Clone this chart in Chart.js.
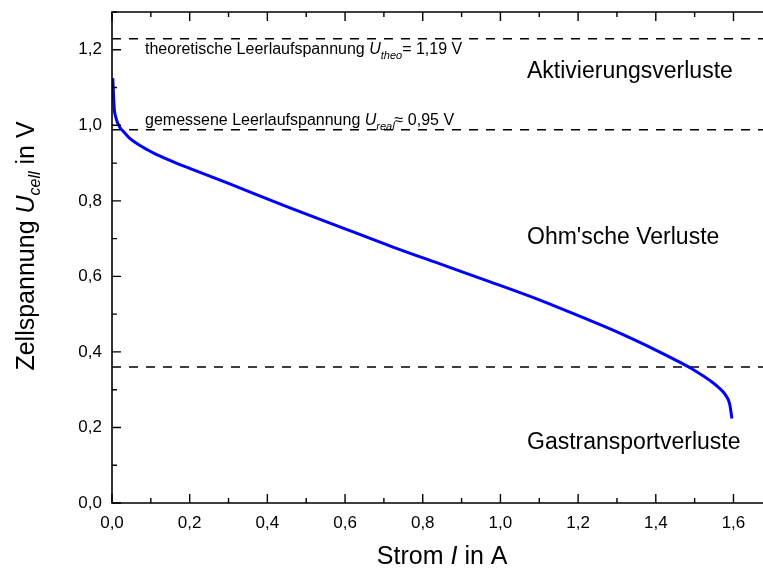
<!DOCTYPE html>
<html>
<head>
<meta charset="utf-8">
<script src="https://cdn.jsdelivr.net/npm/chart.js@4.4.1/dist/chart.umd.min.js"></script>
<style>
  html, body { margin: 0; padding: 0; background: #fff; }
  #wrap { width: 763px; height: 574px; }
</style>
</head>
<body>
<div id="wrap"><canvas id="chart" width="763" height="574"></canvas></div>
<script>
// Strom I in A
const strom = [0.002, 0.004, 0.006, 0.009, 0.013, 0.02, 0.03, 0.045, 0.07, 0.09, 0.11, 0.14, 0.17, 0.2, 0.3, 0.46, 0.6, 0.72, 0.85, 0.97, 1.1, 1.21, 1.3, 1.4, 1.45, 1.5, 1.54, 1.566, 1.58, 1.59, 1.596];
// Zellspannung U in V
const spannung = [1.125, 1.08, 1.041, 1.025, 1.01, 0.995, 0.983, 0.966, 0.948, 0.936, 0.925, 0.911, 0.898, 0.886, 0.846, 0.781, 0.726, 0.679, 0.631, 0.587, 0.538, 0.492, 0.453, 0.405, 0.379, 0.351, 0.324, 0.302, 0.285, 0.263, 0.224];
// horizontal reference levels (dashed)
const levels = [1.229, 0.988, 0.36];
const xTicks = [0, 0.2, 0.4, 0.6, 0.8, 1.0, 1.2, 1.4, 1.6];
const yTicks = [0, 0.2, 0.4, 0.6, 0.8, 1.0, 1.2];
const xMin = 0, xMax = 1.676, xFrame = 1.7;
const yMin = 0, yMax = 1.3;

const FONT = '"Liberation Sans", Arial, sans-serif';

function comma(v) {
    return Number(v).toFixed(1).replace('.', ',');
}

function richWidth(ctx, parts) {
    let w = 0;
    parts.forEach(p => { ctx.font = p.font; w += ctx.measureText(p.t).width; });
    return w;
}

function drawRich(ctx, parts, x, y) {
    let cx = x;
    parts.forEach(p => {
        ctx.font = p.font;
        ctx.fillText(p.t, cx, y + (p.dy || 0));
        cx += ctx.measureText(p.t).width;
    });
}

const framePlugin = {
    id: 'frame',
    afterDraw(chart) {
        const ctx = chart.ctx;
        const xs = chart.scales.x, ys = chart.scales.y;
        const left = xs.getPixelForValue(xMin);
        const right = xs.getPixelForValue(xFrame);
        const top = ys.getPixelForValue(yMax);
        const bottom = ys.getPixelForValue(yMin);
        ctx.save();
        ctx.strokeStyle = '#000';
        ctx.lineWidth = 1.6;
        ctx.beginPath();
        ctx.rect(left, top, right - left, bottom - top);
        ctx.stroke();

        // inward ticks on all four sides, minor every 0.1
        ctx.lineWidth = 1.4;
        ctx.beginPath();
        for (let i = 0; i <= 17; i++) {
            const px = xs.getPixelForValue(i / 10);
            const len = i % 2 === 0 ? 9 : 5;
            ctx.moveTo(px, bottom); ctx.lineTo(px, bottom - len);
            ctx.moveTo(px, top); ctx.lineTo(px, top + len);
        }
        for (let i = 0; i <= 13; i++) {
            const py = ys.getPixelForValue(i / 10);
            const len = i % 2 === 0 ? 9 : 5;
            ctx.moveTo(left, py); ctx.lineTo(left + len, py);
            ctx.moveTo(right, py); ctx.lineTo(right - len, py);
        }
        ctx.stroke();

        ctx.fillStyle = '#000';
        ctx.textAlign = 'left';
        ctx.textBaseline = 'alphabetic';
        // dashed line labels
        drawRich(ctx, [
            { t: 'theoretische Leerlaufspannung ', font: '16px ' + FONT },
            { t: 'U', font: 'italic 16px ' + FONT },
            { t: 'theo', font: 'italic 11px ' + FONT, dy: 5 },
            { t: '= 1,19 V', font: '16px ' + FONT }
        ], 145, 54);
        drawRich(ctx, [
            { t: 'gemessene Leerlaufspannung ', font: '16px ' + FONT },
            { t: 'U', font: 'italic 16px ' + FONT },
            { t: 'real', font: 'italic 11px ' + FONT, dy: 5 },
            { t: '\u2248 0,95 V', font: '16px ' + FONT }
        ], 145, 125);
        // region labels
        ctx.font = '23px ' + FONT;
        ctx.fillText('Aktivierungsverluste', 527, 78);
        ctx.fillText("Ohm'sche Verluste", 527, 244);
        ctx.fillText('Gastransportverluste', 527, 449);

        // axis titles
        const xt = [
            { t: 'Strom ', font: '25px ' + FONT },
            { t: 'I', font: 'italic 25px ' + FONT },
            { t: ' in A', font: '25px ' + FONT }
        ];
        const xw = richWidth(ctx, xt);
        drawRich(ctx, xt, (left + right) / 2 - xw / 2, 564);

        const yt = [
            { t: 'Zellspannung ', font: '25px ' + FONT },
            { t: 'U', font: 'italic 25px ' + FONT },
            { t: 'cell', font: 'italic 16px ' + FONT, dy: 6 },
            { t: ' in V', font: '25px ' + FONT }
        ];
        const yw = richWidth(ctx, yt);
        ctx.translate(34, 246);
        ctx.rotate(-Math.PI / 2);
        drawRich(ctx, yt, -yw / 2, 0);
        ctx.restore();
    }
};

const datasets = [{
    data: strom.map((x, i) => ({ x: x, y: spannung[i] })),
    borderColor: '#0000ff',
    borderWidth: 3,
    pointRadius: 0,
    cubicInterpolationMode: 'monotone',
    fill: false
}];
levels.forEach(v => {
    datasets.push({
        data: [{ x: xMin, y: v }, { x: xMax, y: v }],
        borderColor: '#000',
        borderWidth: 1.5,
        borderDash: [9, 8],
        pointRadius: 0,
        fill: false
    });
});

new Chart(document.getElementById('chart'), {
    type: 'line',
    data: { datasets: datasets },
    options: {
        responsive: false,
        animation: false,
        events: [],
        layout: { padding: { top: 12, right: 0, left: 0, bottom: 0 } },
        plugins: { legend: { display: false }, tooltip: { enabled: false } },
        scales: {
            x: {
                type: 'linear',
                min: xMin,
                max: xMax,
                grid: { display: false, drawTicks: false },
                border: { display: false },
                afterBuildTicks: s => { s.ticks = xTicks.map(v => ({ value: v })); },
                afterFit: s => { s.height = 71; s.paddingLeft = 0; s.paddingRight = 0; },
                ticks: {
                    padding: 10,
                    color: '#000',
                    font: { family: FONT, size: 17 },
                    maxRotation: 0,
                    callback: v => comma(v)
                }
            },
            y: {
                type: 'linear',
                min: yMin,
                max: yMax,
                grid: { display: false, drawTicks: false },
                border: { display: false },
                afterBuildTicks: s => { s.ticks = yTicks.map(v => ({ value: v })); },
                afterFit: s => { s.width = 112; s.paddingTop = 0; s.paddingBottom = 0; },
                ticks: {
                    padding: 10,
                    color: '#000',
                    font: { family: FONT, size: 17 },
                    callback: v => comma(v)
                }
            }
        }
    },
    plugins: [framePlugin]
});
</script>
</body>
</html>
